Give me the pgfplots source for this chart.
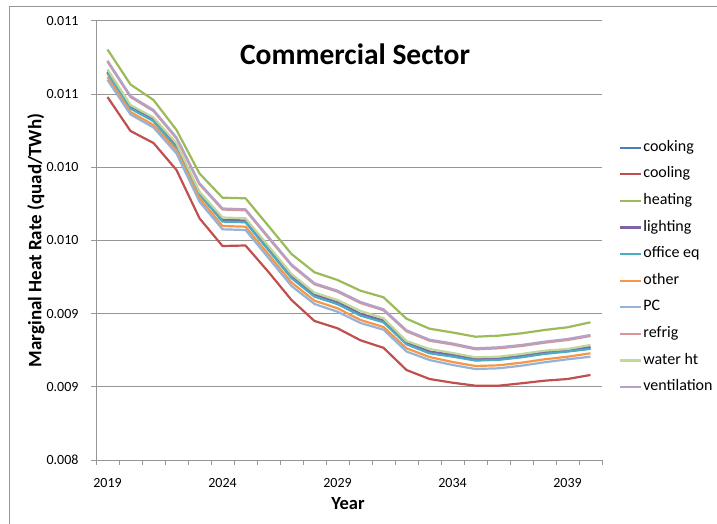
\documentclass[border=0pt]{standalone}
\usepackage{fontspec}
\setmainfont{Carlito}
\usepackage{pgfplots}
\usepackage{pgfplotstable}
\pgfplotsset{compat=1.18}
\definecolor{cCook}{RGB}{74,126,187}
\definecolor{cCool}{RGB}{192,80,77}
\definecolor{cHeat}{RGB}{155,187,89}
\definecolor{cLight}{RGB}{128,100,162}
\definecolor{cOffice}{RGB}{75,172,198}
\definecolor{cOther}{RGB}{247,150,70}
\definecolor{cPC}{RGB}{149,179,215}
\definecolor{cRefrig}{RGB}{217,150,148}
\definecolor{cWater}{RGB}{195,214,155}
\definecolor{cVent}{RGB}{179,162,199}
\definecolor{gridc}{RGB}{150,150,150}

\pgfplotstableread{
i cooking cooling heating lighting office other pc refrig water vent
0  0.0106449 0.0104789 0.0108033 0.0106529 0.0106409 0.0106155 0.0105950 0.0107198 0.0106681 0.0107268
1  0.0104038 0.0102467 0.0105643 0.0104118 0.0103998 0.0103765 0.0103594 0.0104788 0.0104243 0.0104858
2  0.0103184 0.0101648 0.0104584 0.0103264 0.0103144 0.0102877 0.0102706 0.0103832 0.0103389 0.0103902
3  0.0101341 0.0099804 0.0102536 0.0101421 0.0101301 0.0101136 0.0100931 0.0101954 0.0101627 0.0102024
4  0.0098165 0.0096506 0.0099565 0.0098245 0.0098125 0.0097872 0.0097639 0.0098826 0.0098322 0.0098896
5  0.0096321 0.0094614 0.0097912 0.0096401 0.0096281 0.0095980 0.0095754 0.0097105 0.0096560 0.0097175
6  0.0096273 0.0094648 0.0097872 0.0096353 0.0096233 0.0095932 0.0095707 0.0097050 0.0096506 0.0097120
7  0.0094375 0.0092839 0.0095980 0.0094455 0.0094335 0.0094034 0.0093795 0.0095159 0.0094614 0.0095229
8  0.0092463 0.0090926 0.0094068 0.0092543 0.0092423 0.0092121 0.0091882 0.0093281 0.0092702 0.0093351
9  0.0091200 0.0089492 0.0092818 0.0091280 0.0091160 0.0090879 0.0090653 0.0091997 0.0091425 0.0092067
10 0.0090687 0.0088994 0.0092292 0.0090767 0.0090647 0.0090360 0.0090127 0.0091491 0.0090926 0.0091561
11 0.0089902 0.0088174 0.0091561 0.0089982 0.0089862 0.0089561 0.0089356 0.0090720 0.0090175 0.0090790
12 0.0089445 0.0087662 0.0091111 0.0089525 0.0089405 0.0089083 0.0088898 0.0090221 0.0089677 0.0090291
13 0.0087942 0.0086146 0.0089649 0.0088022 0.0087902 0.0087628 0.0087409 0.0088787 0.0088127 0.0088857
14 0.0087328 0.0085531 0.0088966 0.0087408 0.0087288 0.0087034 0.0086829 0.0088145 0.0087580 0.0088215
15 0.0087102 0.0085279 0.0088707 0.0087182 0.0087062 0.0086692 0.0086488 0.0087886 0.0087307 0.0087956
16 0.0086829 0.0085074 0.0088420 0.0086909 0.0086789 0.0086419 0.0086214 0.0087558 0.0087013 0.0087628
17 0.0086877 0.0085074 0.0088488 0.0086957 0.0086837 0.0086467 0.0086262 0.0087626 0.0087054 0.0087696
18 0.0087054 0.0085238 0.0088652 0.0087134 0.0087014 0.0086645 0.0086440 0.0087783 0.0087239 0.0087853
19 0.0087287 0.0085415 0.0088878 0.0087367 0.0087247 0.0086877 0.0086672 0.0088009 0.0087464 0.0088079
20 0.0087444 0.0085531 0.0089062 0.0087524 0.0087404 0.0087054 0.0086877 0.0088193 0.0087580 0.0088263
21 0.0087628 0.0085805 0.0089404 0.0087708 0.0087588 0.0087287 0.0087054 0.0088466 0.0087853 0.0088536
}\datatable

\begin{document}
\begin{tikzpicture}[x=1pt,y=1pt]
\path[use as bounding box] (0pt,0pt) rectangle (717pt,524pt);
\draw[gridc, line width=0.8pt] (9.5pt,0pt) -- (9.5pt,517.5pt) -- (717pt,517.5pt);
\begin{axis}[
  at={(96pt,64pt)}, anchor=south west,
  scale only axis, width=506pt, height=439.3pt,
  xmin=-0.5, xmax=21.5, ymin=0.008, ymax=0.011,
  axis x line=bottom, axis y line=left,
  axis line style={gridc, line width=0.8pt, -},
  tick align=outside,
  xtick={0,5,10,15,20},
  xticklabels={2019,2024,2029,2034,2039},
  minor xtick={-0.5,0.5,...,21.5},
  major x tick style={draw=none},
  minor tick length=5pt,
  major tick length=5pt,
  every tick/.style={gridc, line width=0.8pt},
  ytick={0.008,0.0085,0.009,0.0095,0.010,0.0105,0.011},
  yticklabels={0.008,0.009,0.009,0.010,0.010,0.011,0.011},
  scaled y ticks=false,
  ymajorgrids,
  grid style={gridc, line width=0.8pt},
  ticklabel style={font=\fontsize{14}{16}\selectfont},
  yticklabel style={xshift=-9pt},
  xticklabel style={yshift=-10pt},
  /pgf/number format/assume math mode=true,
  xlabel={Year},
  ylabel={Marginal Heat Rate (quad/TWh)},
  xlabel style={font=\bfseries\fontsize{18.5}{22}\selectfont, at={(axis description cs:0.498,-0.1)}, anchor=center},
  ylabel style={font=\bfseries\fontsize{19}{22}\selectfont, at={(axis description cs:-0.1186,0.4997)}, anchor=center},
  legend style={draw=none, fill=none, inner sep=0pt,
    at={(axis description cs:1.0336,0.7284)}, anchor=north west,
    font=\fontsize{16}{18}\selectfont, row sep=11.6pt,
    nodes={inner xsep=1pt, inner ysep=0pt, text height=11pt, text depth=4pt}},
  legend cell align=left,
  legend image code/.code={\draw[#1] (0pt,0pt) -- (21pt,0pt);},
  every axis plot/.append style={line width=2.2pt, line join=round, no markers},
]
\addplot[cCook] table[x=i,y=cooking] {\datatable};
\addlegendentry{cooking}
\addplot[cCool] table[x=i,y=cooling] {\datatable};
\addlegendentry{cooling}
\addplot[cHeat] table[x=i,y=heating] {\datatable};
\addlegendentry{heating}
\addplot[cLight] table[x=i,y=lighting] {\datatable};
\addlegendentry{lighting}
\addplot[cOffice] table[x=i,y=office] {\datatable};
\addlegendentry{office eq}
\addplot[cOther] table[x=i,y=other] {\datatable};
\addlegendentry{other}
\addplot[cPC] table[x=i,y=pc] {\datatable};
\addlegendentry{PC}
\addplot[cRefrig] table[x=i,y=refrig] {\datatable};
\addlegendentry{refrig}
\addplot[cWater] table[x=i,y=water] {\datatable};
\addlegendentry{water ht}
\addplot[cVent] table[x=i,y=vent] {\datatable};
\addlegendentry{ventilation}
\node[font=\bfseries\fontsize{29.5}{34}\selectfont, anchor=base] at (axis description cs:0.512,0.8992) {Commercial Sector};
\end{axis}
\end{tikzpicture}
\end{document}
